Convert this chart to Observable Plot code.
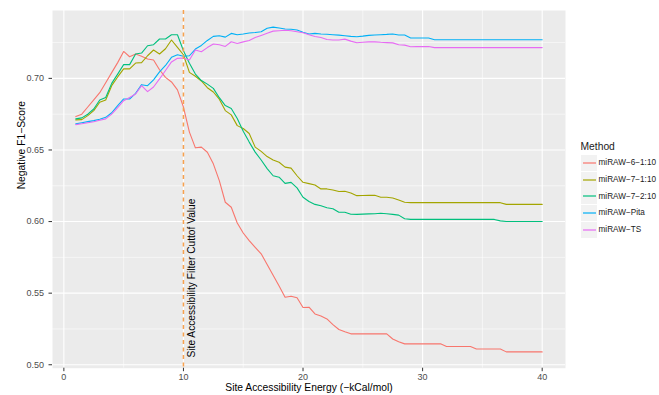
<!DOCTYPE html>
<html><head><meta charset="utf-8">
<script src="https://cdn.jsdelivr.net/npm/d3@7"></script>
<script src="https://cdn.jsdelivr.net/npm/@observablehq/plot@0.6"></script>
<style>
body{margin:0;background:#fff;font-family:"Liberation Sans",Arial,sans-serif;}
#wrap{position:relative;width:659px;height:395px;}
#legend{position:absolute;left:580.5px;top:138.5px;color:#1a1a1a;white-space:nowrap;}
#legend .title{font-size:10.3px;height:16px;line-height:16px;}
#legend .row{display:flex;align-items:center;height:16.7px;}
#legend .key{width:16px;height:16px;margin-right:2px;display:block;}
#legend .lab{font-size:8.2px;}
</style></head><body><div id="wrap"></div>
<script>
const energy = [1,1.5,2,2.5,3,3.5,4,4.5,5,5.5,6,6.5,7,7.5,8,8.5,9,9.5,10,10.5,11,11.5,12,12.5,13,13.5,14,14.5,15,15.5,16,16.5,17,17.5,18,18.5,19,19.5,20,20.5,21,21.5,22,22.5,23,23.5,24,24.5,25,25.5,26,26.5,27,27.5,28,28.5,29,29.5,30,30.5,31,31.5,32,32.5,33,33.5,34,34.5,35,35.5,36,36.5,37,37.5,38,38.5,39,39.5,40];

const methods = ["miRAW\u22126\u22121:10","miRAW\u22127\u22121:10","miRAW\u22127\u22122:10","miRAW\u2212Pita","miRAW\u2212TS"];
const colors = ["#F8766D","#A3A500","#00BF7D","#00B0F6","#E76BF3"];

const raw6_1_10 = [0.6733,0.675,0.680,0.685,0.690,0.697,0.704,0.711,0.7188,0.7151,
 0.717,0.7155,0.7135,0.7128,0.706,0.7007,0.6975,0.692,0.680,0.6625,
 0.6515,0.652,0.6484,0.6403,0.6286,0.6135,0.610,0.599,0.592,0.5867,
 0.582,0.5775,0.570,0.5625,0.555,0.5472,0.5479,0.5468,0.540,0.5402,
 0.5355,0.534,0.532,0.528,0.5246,0.523,0.5216,0.5216,0.5216,0.5216,
 0.5216,0.5216,0.5216,0.518,0.516,0.5146,0.5146,0.5146,0.5146,0.5146,
 0.5146,0.5146,0.5128,0.5128,0.5128,0.5128,0.5128,0.511,0.511,0.511,
 0.511,0.511,0.509,0.509,0.509,0.509,0.509,0.509,0.509];

const raw7_1_10 = [0.671,0.6712,0.674,0.6775,0.6833,0.6849,0.6949,0.701,0.7066,0.7066,
 0.7107,0.711,0.7158,0.7198,0.717,0.7207,0.7268,0.7216,0.7165,0.7042,
 0.7015,0.6982,0.6935,0.6905,0.6855,0.6775,0.6745,0.667,0.665,0.6615,
 0.652,0.649,0.6454,0.643,0.6414,0.638,0.6373,0.632,0.6274,0.6265,
 0.6255,0.6228,0.6228,0.622,0.621,0.6212,0.620,0.6181,0.6182,0.6183,
 0.6184,0.617,0.617,0.6165,0.615,0.6135,0.6132,0.6132,0.6132,0.6132,
 0.6132,0.6132,0.6132,0.6132,0.6132,0.6132,0.6132,0.6132,0.6132,0.6132,
 0.6132,0.6132,0.612,0.612,0.612,0.612,0.612,0.612,0.612];

const raw7_2_10 = [0.6717,0.6724,0.675,0.6786,0.6849,0.6867,0.6965,0.703,0.7096,0.7096,
 0.717,0.7177,0.7228,0.7235,0.7275,0.7275,0.7305,0.7305,0.7193,0.7105,
 0.703,0.6985,0.696,0.693,0.6865,0.681,0.679,0.672,0.663,0.6555,
 0.6485,0.643,0.637,0.632,0.631,0.6267,0.6274,0.6235,0.617,0.614,
 0.612,0.611,0.6096,0.609,0.6065,0.6065,0.6051,0.605,0.6052,0.6054,
 0.6055,0.6058,0.6055,0.605,0.6045,0.602,0.6015,0.6015,0.6015,0.6015,
 0.6015,0.6015,0.6015,0.6015,0.6015,0.6015,0.6015,0.6015,0.6015,0.6015,
 0.6015,0.6005,0.600,0.600,0.600,0.600,0.600,0.600,0.600];

const rawPita = [0.6682,0.669,0.6698,0.6705,0.6715,0.6728,0.676,0.681,0.6856,0.6856,
 0.6895,0.6956,0.6949,0.699,0.7045,0.709,0.7147,0.7165,0.7155,0.7158,
 0.7205,0.723,0.7265,0.7293,0.7298,0.7288,0.7314,0.7305,0.731,0.7317,
 0.732,0.7326,0.735,0.7358,0.7352,0.7345,0.7343,0.7338,0.7322,0.731,
 0.7314,0.731,0.7308,0.7305,0.7302,0.7298,0.7293,0.7291,0.7295,0.730,
 0.7303,0.7305,0.7307,0.731,0.7303,0.7303,0.7282,0.7282,0.7282,0.7282,
 0.727,0.727,0.727,0.727,0.727,0.727,0.727,0.727,0.727,0.727,
 0.727,0.727,0.727,0.727,0.727,0.727,0.727,0.727,0.727];

const rawTS = [0.6677,0.6683,0.669,0.6697,0.6707,0.6717,0.675,0.6795,0.6844,0.6867,
 0.6891,0.6949,0.6907,0.694,0.6996,0.7055,0.7115,0.714,0.7142,0.7128,
 0.7198,0.7186,0.7215,0.724,0.7235,0.7223,0.7256,0.7244,0.7255,0.7265,
 0.7285,0.730,0.7315,0.733,0.7333,0.7336,0.7333,0.7326,0.7319,0.7305,
 0.7293,0.7286,0.7272,0.7268,0.7268,0.7274,0.726,0.7249,0.7252,0.7255,
 0.7255,0.7252,0.725,0.7248,0.7235,0.7232,0.7221,0.7222,0.7222,0.7223,
 0.7215,0.7215,0.7215,0.7215,0.7215,0.7215,0.7215,0.7215,0.7215,0.7215,
 0.7215,0.7215,0.7215,0.7215,0.7215,0.7215,0.7215,0.7215,0.7215];

const cutoff = 10;
const cutoffLabel = "Site Accessibility Filter Cuttof Value";
const xTicks = [0,10,20,30,40];
const xMinor = [5,15,25,35];
const yTicks = [0.50,0.55,0.60,0.65,0.70];
const yMinor = [0.525,0.575,0.625,0.675,0.725];
const xTitle = "Site Accessibility Energy (\u2212kCal/mol)";
const yTitle = "Negative F1\u2212Score";
const legendTitle = "Method";

const seriesValues = [raw6_1_10, raw7_1_10, raw7_2_10, rawPita, rawTS];
const table = [];
methods.forEach((m, k) => energy.forEach((e, i) => table.push({method: m, energy: e, f1: seriesValues[k][i]})));

const chart = Plot.plot({
  width: 659, height: 395,
  marginLeft: 52, marginRight: 94, marginTop: 10, marginBottom: 27.3,
  style: {fontFamily: "Liberation Sans, Arial, sans-serif", background: "#fff"},
  x: {domain: [-0.95, 41.95]},
  y: {domain: [0.4976, 0.7474]},
  color: {domain: methods, range: colors},
  marks: [
    Plot.frame({fill: "#EBEBEB", stroke: null}),
    Plot.ruleX(xMinor, {stroke: "#fff", strokeWidth: 0.55}),
    Plot.ruleY(yMinor, {stroke: "#fff", strokeWidth: 0.55}),
    Plot.ruleX(xTicks, {stroke: "#fff", strokeWidth: 1.1}),
    Plot.ruleY(yTicks, {stroke: "#fff", strokeWidth: 1.1}),
    Plot.line(table, {x: "energy", y: "f1", z: "method", stroke: "method", strokeWidth: 1.1}),
    Plot.ruleX([cutoff], {stroke: "#F7A14E", strokeWidth: 1.5, strokeDasharray: "4,3.5"}),
    Plot.text([cutoffLabel], {x: () => cutoff, y: () => 0.5051, text: d => d, rotate: -90, textAnchor: "start", dx: 8, fontSize: 10.2, fill: "#000"}),
    Plot.axisX(xTicks, {tickSize: 3.5, tickPadding: 1.5, fontSize: 9, color: "#4D4D4D", stroke: "#333", label: null}),
    Plot.axisY(yTicks, {tickSize: 3.5, tickPadding: 5, fontSize: 9, color: "#4D4D4D", stroke: "#333", tickFormat: d3.format(".2f"), label: null}),
    Plot.text([xTitle], {frameAnchor: "bottom", dy: 19.5, text: d => d, fontSize: 10.3, fill: "#000", lineAnchor: "middle"}),
    Plot.text([yTitle], {frameAnchor: "left", dx: -30.5, text: d => d, fontSize: 10.3, fill: "#000", rotate: -90, lineAnchor: "middle"})
  ]
});
const wrap = document.getElementById("wrap");
wrap.appendChild(chart);

const leg = document.createElement("div");
leg.id = "legend";
let html = `<div class="title">${legendTitle}</div>`;
methods.forEach((m, k) => {
  html += `<div class="row"><svg class="key" width="16" height="16"><rect width="16" height="16" fill="#F2F2F2"/><line x1="2" x2="15" y1="8" y2="8" stroke="${colors[k]}" stroke-width="1.2"/></svg><div class="lab">${m}</div></div>`;
});
leg.innerHTML = html;
wrap.appendChild(leg);
</script>
</body></html>
